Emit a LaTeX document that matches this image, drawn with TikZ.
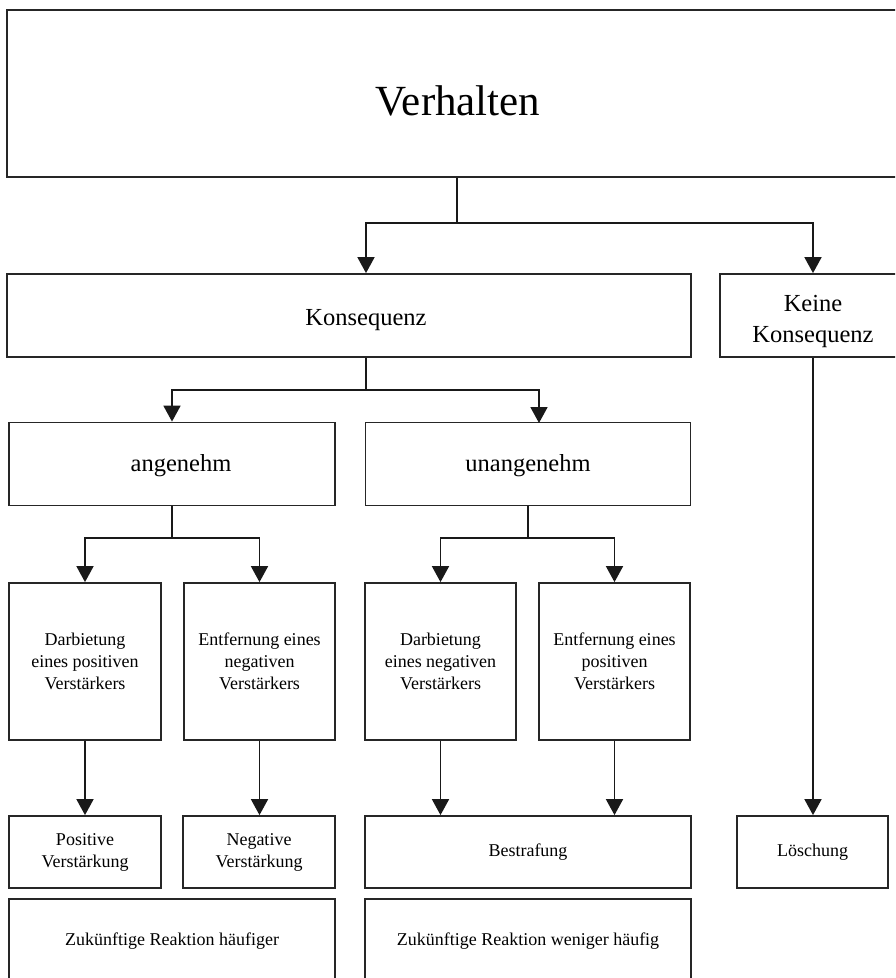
\documentclass[tikz,border=0pt]{standalone}
\usepackage{fontspec}
\setmainfont{Liberation Serif}
\usetikzlibrary{arrows.meta}

\tikzset{
  box/.style={draw=black!85, line width=1.8pt, inner sep=0pt, align=center,
              font=\fontsize{18}{22}\selectfont},
  bigtext/.style={inner sep=0pt, align=center, font=\fontsize{24.5}{31}\selectfont},
  link/.style={draw=black!90, line width=1.8pt},
  arrowlink/.style={link, -{Triangle[length=16pt,width=17pt]}},
}

\begin{document}
\begin{tikzpicture}[x=1pt, y=-1pt]
  \useasboundingbox (0,0) rectangle (895,978);
  \fill[white] (0,0) rectangle (895,978);
  \clip (0,0) rectangle (895,978);

  % top level
  \node[box, minimum width=902pt, minimum height=167pt] (verh) at (458,93.5) {};
  \node[inner sep=0pt, font=\fontsize{43}{50}\selectfont] (verhtext) at (458,101) {Verhalten};

  % second level
  \node[box, minimum width=684pt, minimum height=83pt] (kons) at (349,315.5) {};
  \node[bigtext] (konstext) at (366,320) {Konsequenz};
  \node[box, minimum width=186pt, minimum height=83pt] (keine) at (813,315.5) {};
  \node[bigtext] (keinetext) at (813,321) {Keine\\Konsequenz};

  % third level
  \node[box, minimum width=326pt, minimum height=83pt] (ang) at (172,464) {};
  \node[bigtext] (angtext) at (181,466) {angenehm};
  \node[box, minimum width=325pt, minimum height=83pt] (unang) at (528,464) {};
  \node[bigtext] (unangtext) at (528,466) {unangenehm};

  % fourth level
  \node[box, minimum width=152pt, minimum height=157pt] (d1) at (85,661.5)
        {Darbietung\\eines positiven\\Verstärkers};
  \node[box, minimum width=151pt, minimum height=157pt] (d2) at (259.5,661.5)
        {Entfernung eines\\negativen\\Verstärkers};
  \node[box, minimum width=151pt, minimum height=157pt] (d3) at (440.5,661.5)
        {Darbietung\\eines negativen\\Verstärkers};
  \node[box, minimum width=151pt, minimum height=157pt] (d4) at (614.5,661.5)
        {Entfernung eines\\positiven\\Verstärkers};

  % fifth level
  \node[box, minimum width=152pt, minimum height=72pt] (posv) at (85,852)
        {Positive\\Verstärkung};
  \node[box, minimum width=152pt, minimum height=72pt] (negv) at (259,852)
        {Negative\\Verstärkung};
  \node[box, minimum width=326pt, minimum height=72pt] (best) at (528,852)
        {Bestrafung};
  \node[box, minimum width=151pt, minimum height=72pt] (loesch) at (812.5,852)
        {Löschung};

  % sixth level
  \node[box, minimum width=326pt, minimum height=85pt] (mehr) at (172,941.5)
        {Zukünftige Reaktion häufiger};
  \node[box, minimum width=326pt, minimum height=85pt] (weniger) at (528,941.5)
        {Zukünftige Reaktion weniger häufig};

  % junction points
  \coordinate (j1) at (457,223);
  \coordinate (j2) at (366,390);
  \coordinate (j3) at (172,538);
  \coordinate (j4) at (528,538);

  % Verhalten -> Konsequenz / Keine Konsequenz
  \draw[link] (verh.south -| j1) -- (j1);
  \draw[arrowlink] (j1) -| (konstext |- kons.north);
  \draw[arrowlink] (j1) -| (keine.north);

  % Konsequenz -> angenehm / unangenehm
  \draw[link] (kons.south -| j2) -- (j2);
  \draw[arrowlink] (j2) -| (ang.north);
  \draw[arrowlink] (j2) -| (539,423);

  % angenehm -> fourth level
  \draw[link] (ang.south) -- (j3);
  \draw[arrowlink] (j3) -| (d1.north);
  \draw[arrowlink] (j3) -| (d2.north);

  % unangenehm -> fourth level
  \draw[link] (unang.south) -- (j4);
  \draw[arrowlink] (j4) -| (d3.north);
  \draw[arrowlink] (j4) -| (d4.north);

  % fourth level -> outcomes
  \draw[arrowlink] (d1.south) -- (d1.south |- posv.north);
  \draw[arrowlink] (d2.south) -- (d2.south |- negv.north);
  \draw[arrowlink] (d3.south) -- (d3.south |- best.north);
  \draw[arrowlink] (d4.south) -- (d4.south |- best.north);
  \draw[arrowlink] (keine.south) -- (keine.south |- loesch.north);
\end{tikzpicture}
\end{document}
